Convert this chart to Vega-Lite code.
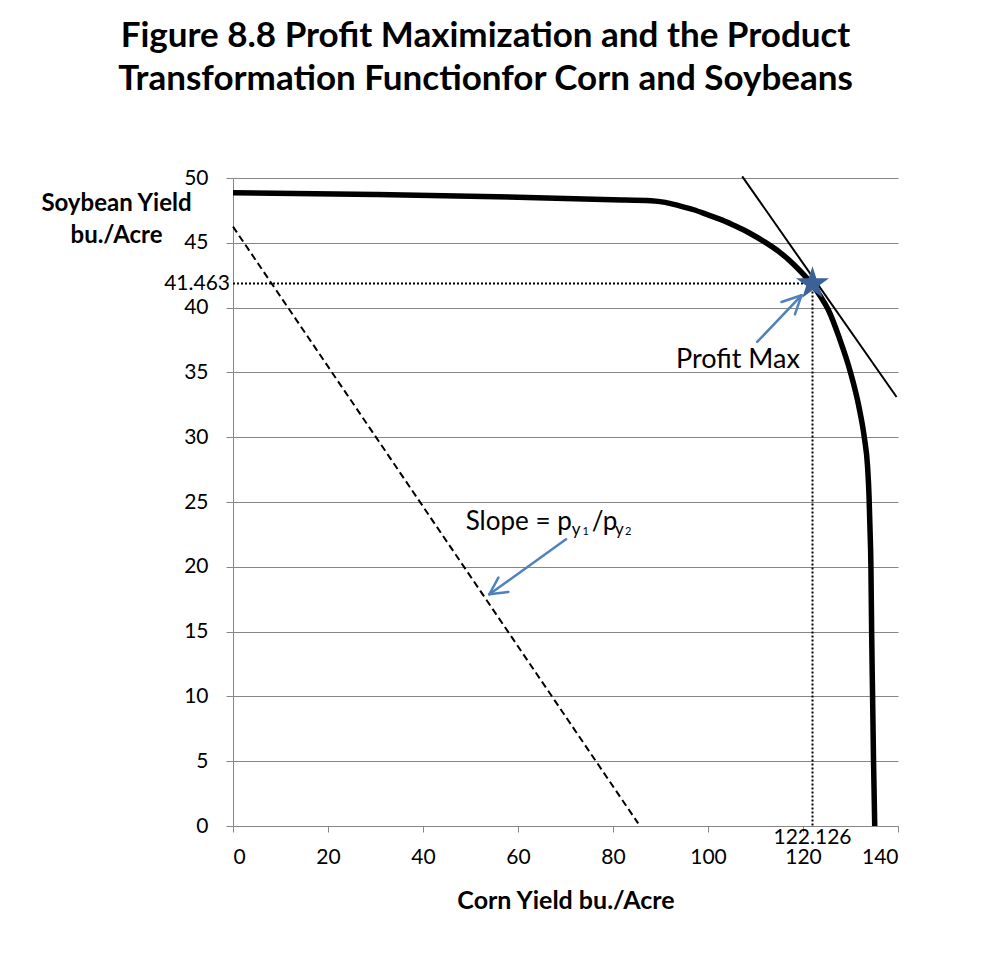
{
  "$schema": "https://vega.github.io/schema/vega-lite/v6.json",
  "autosize": {"type": "none"},
  "padding": {"left": 233, "top": 178, "right": 87, "bottom": 143},
  "width": 665,
  "height": 648,
  "background": "#ffffff",
  "config": {"view": {"stroke": null}, "font": "Lato"},
  "title": {
    "text": ["Figure 8.8  Profit Maximization and the Product", "Transformation Functionfor Corn and Soybeans"],
    "font": "Lato", "fontSize": 35, "fontWeight": "bold", "color": "#000000",
    "anchor": "middle", "frame": "group", "dx": -80, "lineHeight": 43.3, "offset": 70
  },
  "datasets": {
    "frontier": [
      {"x": 0, "y": 48.87}, {"x": 30, "y": 48.72}, {"x": 60, "y": 48.52}, {"x": 80, "y": 48.33},
      {"x": 88, "y": 48.25}, {"x": 91, "y": 48.12}, {"x": 94, "y": 47.85}, {"x": 97, "y": 47.55},
      {"x": 100, "y": 47.15}, {"x": 103, "y": 46.75}, {"x": 106, "y": 46.25}, {"x": 109, "y": 45.7},
      {"x": 112, "y": 45.05}, {"x": 115, "y": 44.3}, {"x": 118, "y": 43.35}, {"x": 120, "y": 42.6},
      {"x": 122, "y": 41.75}, {"x": 123.7, "y": 40.85}, {"x": 125.3, "y": 39.85}, {"x": 127.7, "y": 37.6},
      {"x": 130, "y": 35.0}, {"x": 131.8, "y": 32.3}, {"x": 132.9, "y": 30.0}, {"x": 133.6, "y": 27.7},
      {"x": 133.9, "y": 25.5}, {"x": 134.1, "y": 23}, {"x": 134.3, "y": 20},
      {"x": 134.45, "y": 15}, {"x": 134.65, "y": 10}, {"x": 134.85, "y": 5}, {"x": 135.1, "y": 0}
    ],
    "isorevenue": [{"x": 0, "y": 46.25}, {"x": 85.3, "y": 0.2}],
    "tangent": [{"x": 107.2, "y": 50.13}, {"x": 139.7, "y": 33.1}],
    "guides": [
      {"x": 0, "y": 41.85, "x2": 122, "y2": 41.85},
      {"x": 122, "y": 41.85, "x2": 122, "y2": 0}
    ],
    "arrows": [
      {"x": 110.35, "y": 37.35, "x2": 119.69, "y2": 40.95},
      {"x": 115.48, "y": 40.43, "x2": 119.69, "y2": 40.95},
      {"x": 118.3, "y": 39.48, "x2": 119.69, "y2": 40.95},
      {"x": 70.11, "y": 22.12, "x2": 53.97, "y2": 17.88},
      {"x": 55.87, "y": 19.17, "x2": 53.97, "y2": 17.88},
      {"x": 57.97, "y": 18.06, "x2": 53.97, "y2": 17.88}
    ],
    "star": [{"x": 122, "y": 41.85}],
    "profit": [{"x": 106.3, "y": 35.37, "label": "Profit Max"}],
    "slope": [{"x": 71.31, "y": 22.87, "label": "Slope = p"}],
    "slash": [{"x": 75.52, "y": 22.87, "label": "/p"}],
    "sub": [
      {"x": 71.31, "y": 22.43, "label": "y"},
      {"x": 80.42, "y": 22.43, "label": "y"}
    ],
    "subsub": [
      {"x": 73.58, "y": 22.43, "label": "1"},
      {"x": 82.52, "y": 22.43, "label": "2"}
    ],
    "ylab": [{"x": 0, "y": 41.85, "label": "41.463"}],
    "xlab": [{"x": 122, "y": 0, "label": "122.126"}]
  },
  "encoding": {
    "x": {
      "field": "x", "type": "quantitative",
      "scale": {"domain": [0, 140], "nice": false, "zero": false},
      "axis": {
        "values": [0, 20, 40, 60, 80, 100, 120, 140], "grid": false,
        "domainColor": "#868686", "domainWidth": 1, "tickColor": "#868686", "tickSize": 6,
        "labelFont": "Lato", "labelFontSize": 21, "labelColor": "#000000", "labelPadding": 14,
        "title": "Corn Yield bu./Acre", "titleFont": "Lato", "titleFontSize": 25, "titleFontWeight": "bold",
        "titleColor": "#000000", "titlePadding": 21
      }
    },
    "y": {
      "field": "y", "type": "quantitative",
      "scale": {"domain": [0, 50], "nice": false, "zero": false},
      "axis": {
        "values": [0, 5, 10, 15, 20, 25, 30, 35, 40, 45, 50], "grid": true,
        "gridColor": "#868686", "gridWidth": 1.2,
        "domainColor": "#868686", "domainWidth": 1, "tickColor": "#868686", "tickSize": 7,
        "labelFont": "Lato", "labelFontSize": 21, "labelColor": "#000000", "labelPadding": 18,
        "title": ["Soybean Yield", "bu./Acre"], "titleAngle": 0, "titleAlign": "center", "titleBaseline": "alphabetic",
        "titleX": -117, "titleY": 32, "titleLineHeight": 32.7,
        "titleFont": "Lato", "titleFontSize": 24, "titleFontWeight": "bold", "titleColor": "#000000"
      }
    }
  },
  "layer": [
    {"data": {"name": "isorevenue"}, "mark": {"type": "line", "color": "#000000", "strokeWidth": 2, "strokeDash": [7, 4]}},
    {"data": {"name": "tangent"}, "mark": {"type": "line", "color": "#000000", "strokeWidth": 2}},
    {"data": {"name": "guides"}, "mark": {"type": "rule", "color": "#000000", "strokeWidth": 2, "strokeDash": [2, 2]},
     "encoding": {"x2": {"field": "x2"}, "y2": {"field": "y2"}}},
    {"data": {"name": "frontier"}, "mark": {"type": "line", "color": "#000000", "strokeWidth": 5.5, "interpolate": "monotone", "strokeJoin": "round"}},
    {"data": {"name": "arrows"}, "mark": {"type": "rule", "color": "#4f81bd", "strokeWidth": 2.5, "strokeCap": "round"},
     "encoding": {"x2": {"field": "x2"}, "y2": {"field": "y2"}}},
    {"data": {"name": "star"}, "mark": {"type": "point", "filled": true, "color": "#3b6197", "opacity": 1, "size": 1200,
      "shape": "M0,-1L0.2245,-0.309L0.9511,-0.309L0.3633,0.118L0.5878,0.809L0,0.382L-0.5878,0.809L-0.3633,0.118L-0.9511,-0.309L-0.2245,-0.309Z"}},
    {"data": {"name": "profit"}, "mark": {"type": "text", "font": "Lato", "fontSize": 27, "color": "#000000", "align": "center", "baseline": "alphabetic"},
     "encoding": {"text": {"field": "label"}}},
    {"data": {"name": "slope"}, "mark": {"type": "text", "font": "Lato", "fontSize": 26, "color": "#000000", "align": "right", "baseline": "alphabetic"},
     "encoding": {"text": {"field": "label"}}},
    {"data": {"name": "slash"}, "mark": {"type": "text", "font": "Lato", "fontSize": 26, "color": "#000000", "align": "left", "baseline": "alphabetic"},
     "encoding": {"text": {"field": "label"}}},
    {"data": {"name": "sub"}, "mark": {"type": "text", "font": "Lato", "fontSize": 17, "color": "#000000", "align": "left", "baseline": "alphabetic"},
     "encoding": {"text": {"field": "label"}}},
    {"data": {"name": "subsub"}, "mark": {"type": "text", "font": "Lato", "fontSize": 11, "color": "#000000", "align": "left", "baseline": "alphabetic"},
     "encoding": {"text": {"field": "label"}}},
    {"data": {"name": "ylab"}, "mark": {"type": "text", "font": "Lato", "fontSize": 21, "color": "#000000", "align": "right", "baseline": "middle", "dx": -3},
     "encoding": {"text": {"field": "label"}}},
    {"data": {"name": "xlab"}, "mark": {"type": "text", "font": "Lato", "fontSize": 21, "color": "#000000", "align": "center", "baseline": "alphabetic", "dy": 18},
     "encoding": {"text": {"field": "label"}}}
  ]
}
